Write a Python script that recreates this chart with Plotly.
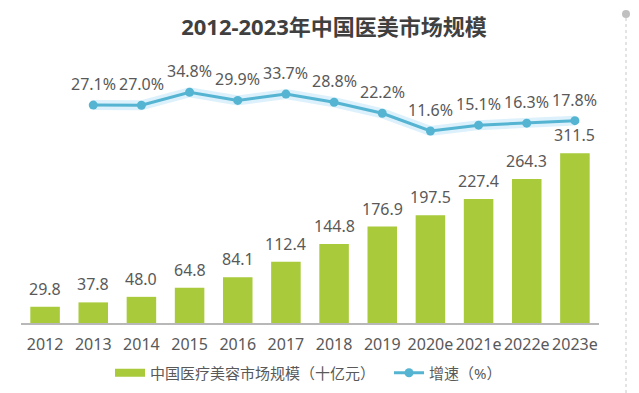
import plotly.graph_objects as go

years = ["2012", "2013", "2014", "2015", "2016", "2017", "2018", "2019",
         "2020e", "2021e", "2022e", "2023e"]
market_size = [29.8, 37.8, 48.0, 64.8, 84.1, 112.4, 144.8, 176.9, 197.5, 227.4, 264.3, 311.5]
growth_years = years[1:]
growth_rate = [27.1, 27.0, 34.8, 29.9, 33.7, 28.8, 22.2, 11.6, 15.1, 16.3, 17.8]

bar_name = "中国医疗美容市场规模（十亿元）"
line_name = "增速（%）"
title_text = "2012-2023年中国医美市场规模"

GREEN = "#A9CA3B"
BLUE = "#55B4D2"
TEXT = "#595959"
FONT = "Noto Sans, Noto Sans CJK SC, sans-serif"

fig = go.Figure()

fig.add_trace(go.Bar(
    x=years, y=market_size, marker=dict(color=GREEN, line=dict(width=0)),
    showlegend=False, hoverinfo="x+y",
))

# legend proxy for the bars (wide flat swatch)
fig.add_trace(go.Scatter(
    x=[years[0]], y=[None], mode="lines", name=bar_name,
    line=dict(color=GREEN, width=8), legend="legend",
))

# soft glow under the growth line
fig.add_trace(go.Scatter(
    x=growth_years, y=growth_rate, yaxis="y2", mode="lines",
    line=dict(color="rgba(130,205,240,0.28)", width=10),
    showlegend=False, hoverinfo="skip",
))

fig.add_trace(go.Scatter(
    x=growth_years, y=growth_rate, yaxis="y2", mode="lines+markers",
    name=line_name, legend="legend2",
    line=dict(color=BLUE, width=3),
    marker=dict(color=BLUE, size=9),
))

annotations = []
for i, yv in enumerate(market_size):
    annotations.append(dict(
        x=i, y=yv, xref="x", yref="y", text=f"{yv:.1f}", showarrow=False,
        yanchor="middle", yshift=18, font=dict(size=16, color=TEXT, family=FONT),
    ))
for gy, yv in zip(growth_years, growth_rate):
    annotations.append(dict(
        x=years.index(gy), y=yv, xref="x", yref="y2", text=f"{yv:.1f}%",
        showarrow=False, yanchor="middle", yshift=21,
        font=dict(size=16, color=TEXT, family=FONT),
    ))

legend_common = dict(
    orientation="h", xanchor="left", yanchor="middle",
    xref="container", yref="container",
    y=1 - 373 / 393, font=dict(size=15, color=TEXT, family=FONT),
    bgcolor="rgba(0,0,0,0)",
)

fig.update_layout(
    width=639, height=393,
    margin=dict(l=21, r=40, t=50, b=70, autoexpand=False),
    paper_bgcolor="white", plot_bgcolor="white",
    font=dict(family=FONT, color=TEXT, size=16),
    title=dict(
        text=f"<b>{title_text}</b>", x=334 / 639, xanchor="center",
        xref="container", y=1 - 27 / 393, yref="container", yanchor="middle",
        font=dict(size=22, color="#404040", family=FONT),
    ),
    bargap=0.387,
    xaxis=dict(
        type="category", categoryorder="array", categoryarray=years,
        range=[-0.5, len(years) - 0.5], autorange=False, automargin=False,
        showgrid=False, zeroline=False,
        showline=True, linecolor="#B8B8B8", linewidth=1.5,
        ticks="", ticklabelstandoff=6,
        tickfont=dict(size=16, color=TEXT, family=FONT),
    ),
    yaxis=dict(range=[0, 500.9], visible=False, showgrid=False, zeroline=False),
    yaxis2=dict(range=[-103.4, 60.1], overlaying="y", visible=False,
                showgrid=False, zeroline=False),
    legend=dict(x=110 / 639, **legend_common),
    legend2=dict(x=389 / 639, **legend_common),
    annotations=annotations,
    shapes=[
        dict(type="line", xref="paper", yref="paper",
             x0=(626 - 21) / 578, x1=(626 - 21) / 578,
             y0=-70 / 273, y1=(323 - 18) / 273,
             line=dict(color="#C8C8C8", width=1, dash="dot")),
        dict(type="circle", xref="paper", yref="paper",
             x0=(622 - 21) / 578, x1=(630 - 21) / 578,
             y0=(323 - 18) / 273, y1=(323 - 10) / 273,
             fillcolor="#C0C0C0", line=dict(width=0)),
    ],
)

fig.write_html(
    "out.html",
    config={"responsive": False, "displayModeBar": False},
    post_script="document.body.style.margin='0';document.body.style.overflow='hidden';",
)
